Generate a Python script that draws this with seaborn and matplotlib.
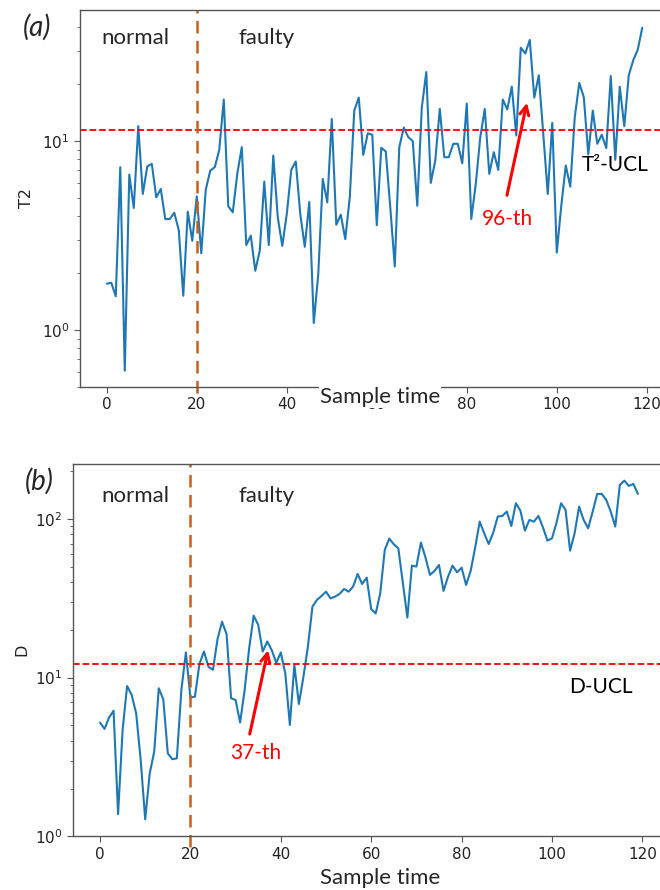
import matplotlib
matplotlib.use('Agg')
import matplotlib.pyplot as plt
import seaborn as sns
import numpy as np

# sample index 0..119
sample_time = list(range(120))

# T2 statistic (panel a)
t2_values = [1.76, 1.78, 1.51, 7.28, 0.61, 6.65, 4.43, 12.0, 5.25, 7.34,
             7.58, 5.04, 5.58, 3.87, 3.87, 4.18, 3.38, 1.52, 4.23, 2.97,
             5.10, 2.55, 5.54, 6.98, 7.28, 8.99, 16.6, 4.52, 4.20, 6.71,
             9.29, 2.82, 3.16, 2.06, 2.63, 6.11, 2.82, 8.39, 3.95, 2.79,
             4.11, 7.04, 7.80, 4.11, 2.76, 4.76, 1.09, 1.98, 6.31, 4.74,
             13.1, 3.61, 4.08, 3.03, 5.04, 14.5, 17.0, 8.46, 11.0, 10.8,
             3.59, 9.22, 8.81, 4.46, 2.17, 9.29, 11.8, 10.5, 10.0, 4.55,
             15.0, 23.2, 6.01, 7.89, 14.8, 8.22, 8.22, 9.68, 9.68, 7.64,
             15.8, 3.87, 5.93, 10.5, 14.8, 6.71, 8.74, 7.04, 16.6, 14.7,
             19.4, 10.7, 31.2, 29.1, 34.3, 17.0, 22.3, 10.9, 5.25, 12.5,
             2.57, 4.55, 7.43, 5.74, 13.4, 20.3, 17.1, 8.50, 14.5, 9.68,
             10.8, 9.18, 22.1, 7.96, 19.4, 12.0, 22.3, 26.8, 30.5, 39.8]

# D statistic (panel b)
d_values = [5.21, 4.75, 5.60, 6.19, 1.38, 4.68, 8.86, 7.78, 5.96, 3.03,
            1.28, 2.49, 3.42, 8.57, 7.30, 3.33, 3.06, 3.10, 8.36, 14.4,
            7.48, 7.59, 12.2, 14.6, 11.7, 11.2, 17.5, 22.5, 18.8, 7.41,
            7.23, 5.21, 8.36, 15.3, 24.6, 21.5, 14.6, 16.9, 14.9, 12.4,
            14.4, 10.6, 5.03, 12.0, 6.82, 10.1, 15.7, 28.0, 30.9, 32.7,
            34.8, 31.6, 32.4, 33.7, 36.2, 34.8, 37.5, 45.0, 38.9, 42.7,
            27.0, 25.4, 34.0, 63.8, 75.2, 69.2, 65.3, 39.5, 23.9, 50.8,
            50.1, 71.0, 57.3, 44.4, 47.0, 51.3, 35.2, 43.3, 50.8, 46.1,
            49.3, 38.4, 47.0, 66.0, 96.2, 81.2, 69.5, 82.0, 103.5, 104.5,
            111.3, 90.3, 125.6, 112.9, 84.4, 98.6, 96.2, 104.5, 88.5, 73.0,
            75.5, 94.8, 125.6, 114.0, 63.1, 81.2, 119.6, 98.6, 87.3, 111.3,
            143.8, 143.8, 131.8, 111.3, 89.5, 163.8, 174.5, 161.5, 166.3, 143.8]

t2_ucl = 11.5
d_ucl = 12.1
fault_start = 20

W, H = 660, 890
fig = plt.figure(figsize=(W / 100, H / 100), dpi=100)
sns.set_style("ticks")

overlay_font = 'Lato'
line_color = '#1f77b4'
fault_color = '#c8601a'


def px_axes(left, top, right, bottom):
    return fig.add_axes([left / W, 1 - bottom / H, (right - left) / W, (bottom - top) / H])


def style_axes(ax):
    ax.set_yscale('log')
    ax.spines['right'].set_visible(False)
    for s in ['left', 'bottom', 'top']:
        ax.spines[s].set_color('#555555')
        ax.spines[s].set_linewidth(1.0)
    ax.set_xticks(range(0, 121, 20))
    ax.tick_params(axis='both', which='major', labelsize=11, length=4, color='#555555',
                   labelcolor='#222222')
    ax.tick_params(axis='y', which='minor', length=2.5, color='#555555')
    ax.set_xlabel('')


# ---- panel (a)
ax1 = px_axes(80, 10, 660, 387)
sns.lineplot(x=sample_time, y=t2_values, ax=ax1, color=line_color, linewidth=1.5)
style_axes(ax1)
ax1.set_xlim(-5.95, -5.95 + 580 / 4.5)
ax1.set_ylim(0.5, 49.4)
ax1.axhline(t2_ucl, color='red', linestyle='--', linewidth=1.3)
ax1.axvline(fault_start, ymin=-0.015, color=fault_color, linestyle=(0, (5, 3)),
            linewidth=1.8, clip_on=False)
ax1.set_ylabel('T2', fontsize=11.5, color='#222222', labelpad=6)
ax1.annotate('', xy=(93.5, 16.5), xytext=(88.8, 5.0),
             arrowprops=dict(arrowstyle='->', color='red', lw=2.2, mutation_scale=16))
ax1.text(89, 3.88, '96-th', color='red', fontsize=15, family=overlay_font,
         ha='center', va='center')
ax1.text(105.6, 7.43, 'T²-UCL', color='black', fontsize=15, family=overlay_font,
         ha='left', va='center')

# ---- panel (b)
ax2 = px_axes(72.7, 464, 660, 836.3)
sns.lineplot(x=sample_time, y=d_values, ax=ax2, color=line_color, linewidth=1.5)
style_axes(ax2)
ax2.set_xlim(-6.04, -6.04 + 587.3 / 4.52)
ax2.set_ylim(1.0, 222)
ax2.axhline(d_ucl, color='red', linestyle='--', linewidth=1.3)
ax2.axvline(fault_start, ymin=-0.03, color=fault_color, linestyle=(0, (5, 3)),
            linewidth=1.8, clip_on=False)
ax2.set_ylabel('D', fontsize=11.5, color='#222222')
ax2.annotate('', xy=(37.3, 15.5), xytext=(33.0, 4.24),
             arrowprops=dict(arrowstyle='->', color='red', lw=2.2, mutation_scale=16))
ax2.text(34.4, 3.33, '37-th', color='red', fontsize=15, family=overlay_font,
         ha='center', va='center')
ax2.text(103.8, 8.77, 'D-UCL', color='black', fontsize=15, family=overlay_font,
         ha='left', va='center')

# overlay labels (pasted text boxes in the original figure)
for y_top in (38, 496):
    fig.text(135 / W, 1 - y_top / H, 'normal', fontsize=16, family=overlay_font,
             ha='center', va='center')
    fig.text(267 / W, 1 - y_top / H, 'faulty', fontsize=16, family=overlay_font,
             ha='center', va='center')
fig.text(37 / W, 1 - 27 / H, '(a)', fontsize=20, family=overlay_font, style='italic',
         ha='center', va='center')
fig.text(39 / W, 1 - 481 / H, '(b)', fontsize=20, family=overlay_font, style='italic',
         ha='center', va='center')
fig.text(380 / W, 1 - 397 / H, 'Sample time', fontsize=16, family=overlay_font,
         ha='center', va='center', bbox=dict(facecolor='white', edgecolor='none', pad=0.5))
fig.text(380 / W, 1 - 878 / H, 'Sample time', fontsize=16, family=overlay_font,
         ha='center', va='center')

fig.savefig('out.png', dpi=100)
